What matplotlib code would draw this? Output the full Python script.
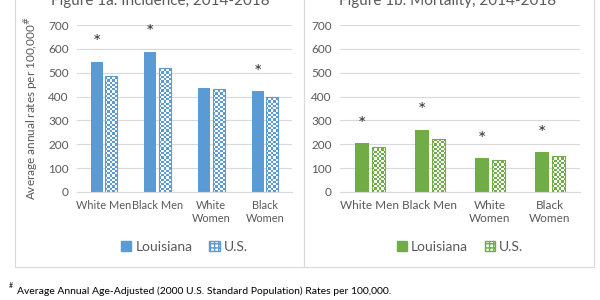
import numpy as np
import matplotlib
matplotlib.use("Agg")
import matplotlib.pyplot as plt
from matplotlib.colors import ListedColormap
from matplotlib.patches import Patch, Rectangle

plt.rcParams['font.family'] = ['Lato', 'DejaVu Sans']

# data
groups = ["White Men", "Black Men", "White\nWomen", "Black\nWomen"]
inc_la = [546, 588, 435, 422]
inc_us = [487, 520, 432, 399]
inc_star = [628, 668, None, 502]
mort_la = [205, 260, 142, 166]
mort_us = [189, 222, 135, 152]
mort_star = [285, 340, 222, 247]

blue = "#5b9bd5"
green = "#70ad47"
grid_c = "#d9d9d9"
text_c = "#595959"


def checker_bars(ax, bars, color, cell=2.2):
    fig = ax.figure
    fig.canvas.draw()
    cmap = ListedColormap(["white", color])
    for b in bars:
        x0, w, h = b.get_x(), b.get_width(), b.get_height()
        p0 = ax.transData.transform((x0, 0))
        p1 = ax.transData.transform((x0 + w, h))
        nx = max(1, int(round(abs(p1[0] - p0[0]) / cell)))
        ny = max(1, int(round(abs(p1[1] - p0[1]) / cell)))
        img = np.indices((ny, nx)).sum(axis=0) % 2
        im = ax.imshow(img, cmap=cmap, extent=[x0, x0 + w, 0, h],
                       interpolation="nearest", aspect="auto", zorder=2.5)
        im.set_clip_path(b)


def draw_panel(ax, la, us, stars, color, width, tick_fs):
    x = np.arange(len(groups))
    gap = 0.05
    ax.set_xlim(-0.5, len(groups) - 0.5)
    ax.set_ylim(0, 700)
    ax.bar(x - (width + gap) / 2, la, width, color=color, zorder=2)
    b2 = ax.bar(x + (width + gap) / 2, us, width, facecolor="white",
                edgecolor="none", zorder=2)
    checker_bars(ax, b2, color)
    ax.bar(x + (width + gap) / 2, us, width, fill=False,
           edgecolor=color, linewidth=0.8, zorder=3)
    ax.set_xlim(-0.5, len(groups) - 0.5)
    ax.set_ylim(0, 700)
    for xi, s in zip(x - (width + gap) / 2, stars):
        if s is not None:
            ax.text(xi, s, "*", ha="center", va="center", fontsize=14,
                    color="#333333")
    ax.set_yticks(range(0, 701, 100))
    ax.set_xticks(x)
    ax.set_xticklabels(groups, fontsize=tick_fs, color=text_c, linespacing=1.15)
    ax.tick_params(axis="y", labelsize=8.5, colors=text_c, length=0, pad=6)
    ax.tick_params(axis="x", length=0, pad=6)
    ax.grid(axis="y", color=grid_c, linewidth=0.8, zorder=0)
    ax.set_axisbelow(True)
    for s in ["top", "right", "left"]:
        ax.spines[s].set_visible(False)
    ax.spines["bottom"].set_color(grid_c)
    handles = [Patch(facecolor=color, edgecolor=color, label="Louisiana"),
               Patch(facecolor="white", edgecolor=color, hatch="++++",
                     label="U.S.")]
    ax.legend(handles=handles, loc="center", bbox_to_anchor=(0.5, -0.33),
              ncol=2, frameon=False, fontsize=10, handlelength=0.75,
              handleheight=0.75, columnspacing=1.2, handletextpad=0.3,
              labelcolor=text_c)


fig = plt.figure(figsize=(6, 3), dpi=100)

# panel borders
fig.add_artist(Rectangle((15 / 600, 1 - 267 / 300), 289 / 600, 280 / 300,
                         transform=fig.transFigure, fill=False,
                         edgecolor=grid_c, linewidth=0.8))
fig.add_artist(Rectangle((304 / 600, 1 - 267 / 300), 290 / 600, 280 / 300,
                         transform=fig.transFigure, fill=False,
                         edgecolor=grid_c, linewidth=0.8))

ax1 = fig.add_axes([77 / 600, 1 - 192 / 300, 215 / 600, 167 / 300])
ax2 = fig.add_axes([340 / 600, 1 - 192 / 300, 240 / 600, 167 / 300])

draw_panel(ax1, inc_la, inc_us, inc_star, blue, 0.22, 7.9)
draw_panel(ax2, mort_la, mort_us, mort_star, green, 0.23, 8.5)

ax1.set_ylabel(r"Average annual rates per 100,000$^{\#}$", fontsize=8.5,
               color=text_c, labelpad=5)

fig.text(160 / 600, 1 - 5 / 300, "Figure 1a. Incidence, 2014-2018",
         ha="center", va="baseline", fontsize=11, color=text_c)
fig.text(448 / 600, 1 - 5 / 300, "Figure 1b. Mortality, 2014-2018",
         ha="center", va="baseline", fontsize=11, color=text_c)

fig.text(9 / 600, 1 - 286 / 300, "#", fontsize=5, color="black",
         ha="left", va="center")
fig.text(17 / 600, 1 - 291 / 300,
         "Average Annual Age-Adjusted (2000 U.S. Standard Population) Rates per 100,000.",
         fontsize=7.5, color="black", ha="left", va="center")

fig.savefig("out.png", dpi=100)
